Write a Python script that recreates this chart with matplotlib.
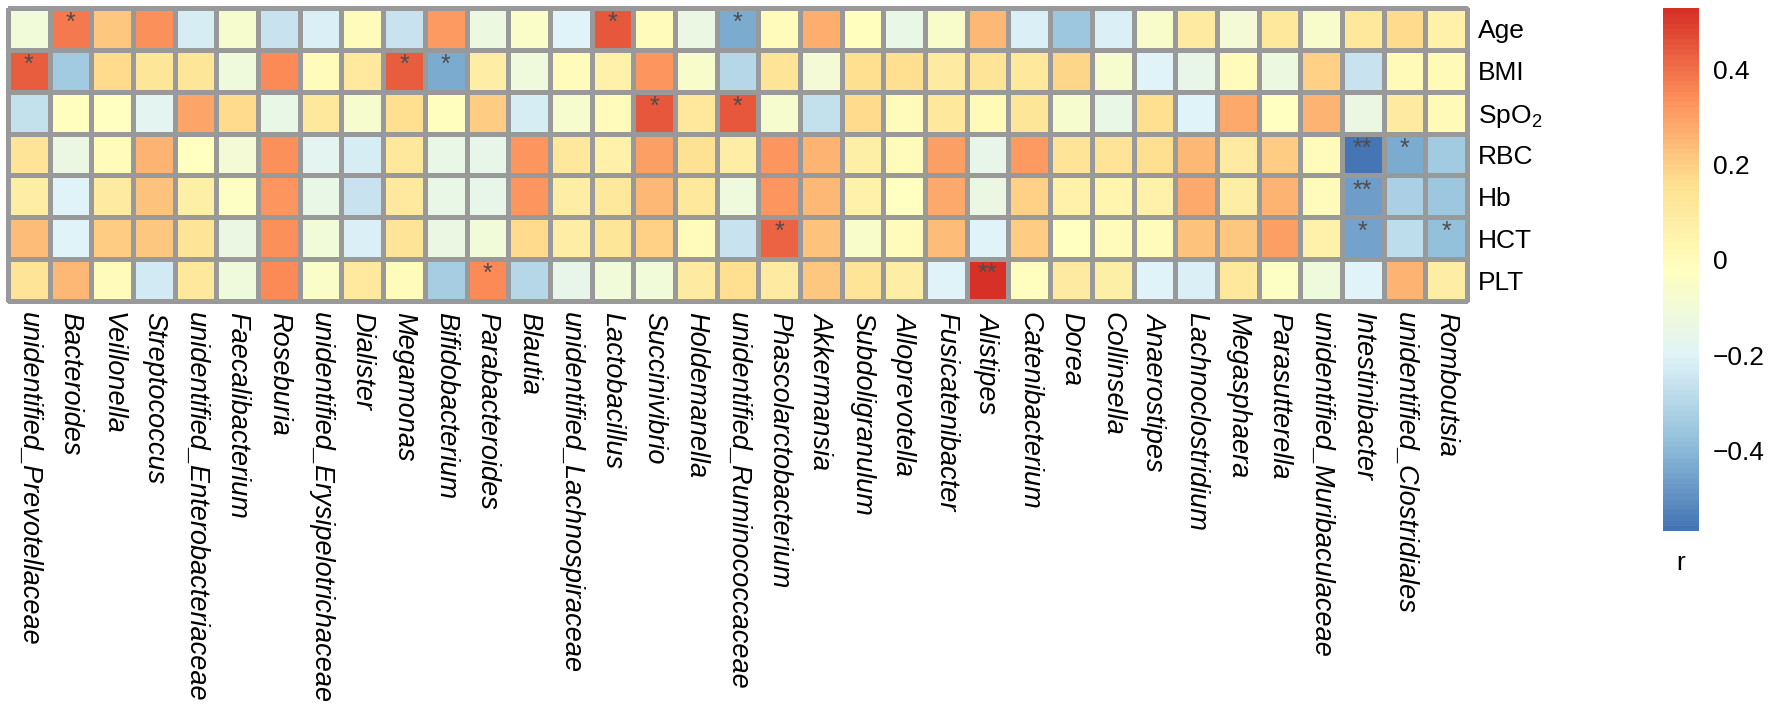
import numpy as np
import matplotlib
matplotlib.use('Agg')
import matplotlib.pyplot as plt
from matplotlib.colors import LinearSegmentedColormap, Normalize

plt.rcParams['font.family'] = ['Liberation Sans', 'DejaVu Sans']

genera = ['unidentified_Prevotellaceae', 'Bacteroides', 'Veillonella', 'Streptococcus',
          'unidentified_Enterobacteriaceae', 'Faecalibacterium', 'Roseburia',
          'unidentified_Erysipelotrichaceae', 'Dialister', 'Megamonas', 'Bifidobacterium',
          'Parabacteroides', 'Blautia', 'unidentified_Lachnospiraceae', 'Lactobacillus',
          'Succinivibrio', 'Holdemanella', 'unidentified_Ruminococcaceae',
          'Phascolarctobacterium', 'Akkermansia', 'Subdoligranulum', 'Alloprevotella',
          'Fusicatenibacter', 'Alistipes', 'Catenibacterium', 'Dorea', 'Collinsella',
          'Anaerostipes', 'Lachnoclostridium', 'Megasphaera', 'Parasutterella',
          'unidentified_Muribaculaceae', 'Intestinibacter', 'unidentified_Clostridiales',
          'Romboutsia']

clinical = ['Age', 'BMI', r'SpO$\mathregular{_2}$', 'RBC', 'Hb', 'HCT', 'PLT']

# Spearman r, one list per clinical index (in genus order)
r_age = [-0.10, 0.38, 0.22, 0.34, -0.22, -0.07, -0.26, -0.21, 0.00, -0.26,
         0.32, -0.12, -0.05, -0.20, 0.45, 0.00, -0.13, -0.43, 0.00, 0.27,
         -0.01, -0.15, -0.06, 0.25, -0.21, -0.35, -0.21, -0.06, 0.10, -0.09,
         0.12, -0.06, 0.12, 0.17, 0.06]
r_bmi = [0.44, -0.34, 0.17, 0.13, 0.13, -0.11, 0.35, 0.00, 0.11, 0.44,
         -0.43, 0.09, -0.11, 0.00, 0.06, 0.33, -0.06, -0.30, 0.14, -0.09,
         0.16, 0.16, 0.10, 0.14, 0.12, 0.18, -0.07, -0.20, -0.16, 0.00,
         -0.12, 0.19, -0.26, 0.01, 0.01]
r_spo2 = [-0.27, -0.01, -0.03, -0.18, 0.29, 0.17, -0.15, 0.12, -0.07, 0.16,
          -0.01, 0.20, -0.22, -0.07, 0.00, 0.45, 0.12, 0.45, -0.07, -0.27,
          0.17, 0.00, 0.12, 0.01, 0.13, -0.07, -0.15, 0.16, -0.20, 0.28,
          -0.03, 0.26, -0.13, 0.10, 0.01]
r_rbc = [0.14, -0.14, 0.00, 0.26, -0.02, -0.09, 0.34, -0.18, -0.22, 0.12,
         -0.15, -0.16, 0.33, 0.12, 0.06, 0.30, 0.15, 0.09, 0.33, 0.26,
         0.07, 0.00, 0.31, -0.16, 0.32, 0.14, 0.14, 0.16, 0.25, 0.10,
         0.20, 0.00, -0.56, -0.43, -0.34]
r_hb = [0.09, -0.20, 0.10, 0.23, 0.07, -0.04, 0.33, -0.15, -0.26, 0.11,
        -0.15, -0.16, 0.33, 0.09, 0.12, 0.25, 0.12, -0.11, 0.33, 0.25,
        0.06, -0.03, 0.28, -0.14, 0.19, 0.06, 0.04, 0.06, 0.28, 0.08,
        0.26, 0.00, -0.47, -0.32, -0.35]
r_hct = [0.24, -0.20, 0.20, 0.22, 0.14, -0.13, 0.34, -0.10, -0.21, 0.14,
         -0.13, -0.10, 0.17, 0.08, 0.13, 0.19, 0.00, -0.26, 0.43, 0.23,
         -0.06, 0.00, 0.24, -0.20, 0.20, -0.03, 0.00, 0.00, 0.23, 0.22,
         0.30, 0.06, -0.45, -0.28, -0.38]
r_plt = [0.14, 0.25, 0.00, -0.23, 0.12, -0.11, 0.35, -0.05, 0.11, 0.00,
         -0.33, 0.35, -0.30, -0.16, -0.10, -0.10, 0.10, 0.16, 0.10, 0.22,
         0.14, 0.08, -0.20, 0.53, -0.01, 0.10, 0.07, -0.20, -0.21, 0.12,
         -0.04, -0.11, -0.20, 0.26, 0.09]

# significance marks: (clinical row, genus, mark)
signif = [(0, 'Bacteroides', '*'), (0, 'Lactobacillus', '*'),
          (0, 'unidentified_Ruminococcaceae', '*'),
          (1, 'unidentified_Prevotellaceae', '*'), (1, 'Megamonas', '*'),
          (1, 'Bifidobacterium', '*'),
          (2, 'Succinivibrio', '*'), (2, 'unidentified_Ruminococcaceae', '*'),
          (3, 'Intestinibacter', '**'), (3, 'unidentified_Clostridiales', '*'),
          (4, 'Intestinibacter', '**'),
          (5, 'Phascolarctobacterium', '*'), (5, 'Intestinibacter', '*'),
          (5, 'Romboutsia', '*'),
          (6, 'Parabacteroides', '*'), (6, 'Alistipes', '**')]

mat = np.array([r_age, r_bmi, r_spo2, r_rbc, r_hb, r_hct, r_plt])

# pheatmap default palette: rev(brewer.pal(7, "RdYlBu")), 100 steps
pal = ['#4575B4', '#91BFDB', '#E0F3F8', '#FFFFBF', '#FEE090', '#FC8D59', '#D73027']
cmap = LinearSegmentedColormap.from_list('rdylbu', pal, N=100)
norm = Normalize(vmin=-0.57, vmax=0.53)

W, H = 1772, 718
fig = plt.figure(figsize=(W / 100, H / 100), dpi=100)
ax = fig.add_axes([8 / W, 1 - 301 / H, 1459 / W, 293 / H])

ny, nx = mat.shape
mesh = ax.pcolormesh(np.arange(nx + 1), np.arange(ny + 1), mat, cmap=cmap, norm=norm,
                     edgecolors='#999999', linewidth=2.2)
mesh.set_clip_on(False)
ax.set_xlim(0, nx)
ax.set_ylim(ny, 0)
for s in ax.spines.values():
    s.set_visible(False)

for row, name, mark in signif:
    col = genera.index(name)
    ax.text(col + 0.5, row + 0.36, mark, ha='center', va='center',
            fontsize=18, color='#4D4D4D')

ax.set_xticks(np.arange(nx) + 0.5)
ax.set_xticklabels(genera, rotation=270, fontstyle='italic', fontsize=19.5,
                   ha='center', va='top')
ax.tick_params(axis='x', length=0, pad=8)
ax.yaxis.tick_right()
ax.set_yticks(np.arange(ny) + 0.5)
ax.set_yticklabels(clinical, fontsize=19)
ax.tick_params(axis='y', length=0, pad=8)

# colour key
cax = fig.add_axes([1663 / W, 1 - 531 / H, 36 / W, 523 / H])
cb = fig.colorbar(plt.cm.ScalarMappable(norm=norm, cmap=cmap), cax=cax)
cb.outline.set_visible(False)
cb.set_ticks([-0.4, -0.2, 0, 0.2, 0.4])
cb.set_ticklabels(['\u22120.4', '\u22120.2', '0', '0.2', '0.4'])
cax.tick_params(length=0, pad=10, labelsize=19)
fig.text(1681 / W, 1 - 563 / H, 'r', ha='center', va='center', fontsize=19)

fig.savefig('out.png', dpi=100)
